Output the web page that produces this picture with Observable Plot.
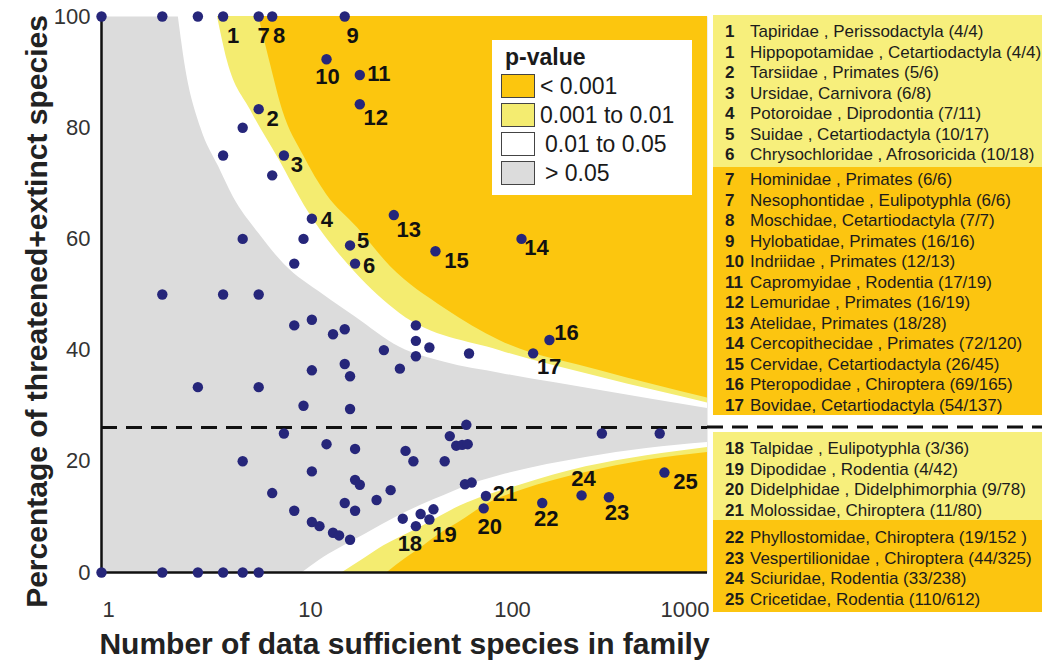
<!DOCTYPE html>
<html>
<head>
<meta charset="utf-8">
<script src="https://cdn.jsdelivr.net/npm/d3@7"></script>
<script src="https://cdn.jsdelivr.net/npm/@observablehq/plot@0.6"></script>
<style>
html, body { margin: 0; padding: 0; background: #fff; }
#wrap { position: relative; width: 1050px; height: 662px; overflow: hidden;
  font-family: "Liberation Sans", Arial, sans-serif; }
#chart { position: absolute; left: 0; top: 0; }
.blk { position: absolute; left: 713px; width: 329px; box-sizing: border-box; }
.row { height: 20.5px; line-height: 20.5px; font-size: 17px; color: #1c1c1c; white-space: nowrap; padding-left: 12px; }
.row b { display: inline-block; width: 25px; }
#legend { position: absolute; left: 492px; top: 40px; width: 200px; height: 155px; background: #fff; }
#legend .ttl { position: absolute; left: 13px; top: 4px; font-size: 23px; font-weight: bold; color: #1a1a1a; }
#legend .sw { position: absolute; left: 9px; width: 32px; height: 22px; border: 1.5px solid #444; }
#legend .lab { position: absolute; left: 48px; font-size: 23px; color: #1a1a1a; line-height: 25px; }
#dashR { position: absolute; left: 0; top: 0; pointer-events: none; }
</style>
</head>
<body>
<div id="wrap">
  <div id="chart"></div>
  <div id="legend"></div>
  <div id="tables"></div>
  <svg id="dashR" width="1050" height="662"></svg>
</div>
<script>
// ---------------- data ----------------
const baseline = 26.1;              // overall % threatened+extinct (dashed line)
const xTicks = [1, 10, 100, 1000];
const yTicks = [0, 20, 40, 60, 80, 100];

// numbered families (table on the right); k = threatened+extinct, n = data sufficient
const tableNo = [1, 1, 2, 3, 4, 5, 6, 7, 7, 8, 9, 10, 11, 12, 13, 14, 15, 16, 17, 18, 19, 20, 21, 22, 23, 24, 25];
const tableText = [
  "Tapiridae , Perissodactyla (4/4)",
  "Hippopotamidae , Cetartiodactyla (4/4)",
  "Tarsiidae , Primates  (5/6)",
  "Ursidae, Carnivora  (6/8)",
  "Potoroidae , Diprodontia  (7/11)",
  "Suidae , Cetartiodactyla  (10/17)",
  "Chrysochloridae , Afrosoricida (10/18)",
  "Hominidae , Primates (6/6)",
  "Nesophontidae , Eulipotyphla (6/6)",
  "Moschidae, Cetartiodactyla  (7/7)",
  "Hylobatidae, Primates (16/16)",
  "Indriidae , Primates (12/13)",
  "Capromyidae , Rodentia (17/19)",
  "Lemuridae , Primates (16/19)",
  "Atelidae, Primates (18/28)",
  "Cercopithecidae , Primates (72/120)",
  "Cervidae, Cetartiodactyla (26/45)",
  "Pteropodidae , Chiroptera (69/165)",
  "Bovidae, Cetartiodactyla (54/137)",
  "Talpidae , Eulipotyphla  (3/36)",
  "Dipodidae , Rodentia (4/42)",
  "Didelphidae , Didelphimorphia  (9/78)",
  "Molossidae, Chiroptera  (11/80)",
  "Phyllostomidae, Chiroptera  (19/152 )",
  "Vespertilionidae , Chiroptera  (44/325)",
  "Sciuridae, Rodentia (33/238)",
  "Cricetidae, Rodentia  (110/612)"
];
const tableK = [4, 4, 5, 6, 7, 10, 10, 6, 6, 7, 16, 12, 17, 16, 18, 72, 26, 69, 54, 3, 4, 9, 11, 19, 44, 33, 110];
const tableN = [4, 4, 6, 8, 11, 17, 18, 6, 6, 7, 16, 13, 19, 19, 28, 120, 45, 165, 137, 36, 42, 78, 80, 152, 325, 238, 612];
const tableGroup = ["0.001 to 0.01","0.001 to 0.01","0.001 to 0.01","0.001 to 0.01","0.001 to 0.01","0.001 to 0.01","0.001 to 0.01",
  "< 0.001","< 0.001","< 0.001","< 0.001","< 0.001","< 0.001","< 0.001","< 0.001","< 0.001","< 0.001","< 0.001","< 0.001",
  "0.001 to 0.01","0.001 to 0.01","0.001 to 0.01","0.001 to 0.01",
  "< 0.001","< 0.001","< 0.001","< 0.001"];

// other (unnumbered) families: n data sufficient, k threatened+extinct
const otherN = [1, 2, 3, 1, 2, 3, 4, 5, 6,
  5, 4, 7, 5, 10, 9, 2, 4, 6, 9, 11, 14, 16, 36, 36, 36, 42, 25, 30, 11, 16, 17, 6, 3, 10, 17, 8, 13, 18, 32,
  53, 64, 66, 57, 61, 65, 35, 50, 300, 580, 5, 11, 18, 19, 7, 16, 18, 9, 11, 12, 14, 15, 17, 23, 27, 63, 68, 31, 38, 44];
const otherK = [1, 2, 3, 0, 0, 0, 0, 0, 0,
  4, 3, 5, 3, 6, 5, 1, 2, 3, 4, 5, 6, 7, 16, 15, 14, 17, 10, 11, 4, 6, 6, 2, 1, 3, 5, 2, 3, 4, 7,
  13, 17, 26, 13, 14, 15, 7, 10, 75, 145, 1, 2, 3, 3, 1, 2, 2, 1, 1, 1, 1, 1, 1, 3, 4, 10, 11, 3, 4, 5];

// significance boundaries: [n, percent]
const bound05Upper  = [[2.4,100],[2.6,91],[3.1,80],[3.8,73],[4.5,67.5],[6,61],[8,55.5],[12.5,50],[18,46],[30,40.5],[50,37.8],[95,35.8],[300,32.7],[1000,29.5]];
const bound01Upper  = [[3.75,100],[4.2,92],[5.5,83],[7.5,74.5],[10.5,65],[18,54],[30,46.6],[94,39.9],[295,35.1],[1000,30.5]];
const bound001Upper = [[6,100],[6.8,92],[7.9,83],[10,75],[13,68],[18.5,62],[27,55],[50,47.5],[94,41.7],[295,36.3],[1000,31.4]];
const bound05Lower  = [[9.9,0],[12,2.2],[15,4.3],[20,6.8],[30,10.3],[45,13.2],[67,15.8],[100,17.7],[250,20.7],[500,22.3],[1000,23.4]];
const bound01Lower  = [[15.6,0],[20,2.5],[25,4.8],[30,6.3],[40,8.6],[60,12],[80,13.8],[120,15.8],[250,19],[500,21],[1000,22.5]];
const bound001Lower = [[26,0],[32,2.5],[40,5],[50,7.5],[60,9.2],[80,12.2],[120,14.8],[250,18],[500,20.2],[1000,21.6]];

const legendLabels = ["< 0.001", "0.001 to 0.01", "0.01 to 0.05", "> 0.05"];
const xTitle = "Number of data sufficient species in family";
const yTitle = "Percentage of threatened+extinct species";

// ---------------- styles ----------------
const C = {"< 0.001": "#FCC60E", "0.001 to 0.01": "#F4EC70", "0.01 to 0.05": "#FFFFFF", "> 0.05": "#DCDCDC"};
const TABLE_C = {"< 0.001": "#FCC510", "0.001 to 0.01": "#F7EF7C"};
const NAVY = "#26267a";
// label offsets (dx, dy) in px for plot numbers 1..25
const labelOffsets = {1:[10,19],2:[14,10],3:[13,9],4:[15,1],5:[13,-4],6:[14,2],7:[5,19],8:[7,19],9:[8,19],10:[1,18],
  11:[19,-1],12:[16,14],13:[15,15],14:[15,9],15:[21,10],16:[17,-7],17:[16,14],18:[-6,18],19:[15,15],20:[6,19],
  21:[19,-2],22:[4,16],23:[8,16],24:[2,-16],25:[21,9]};

// ---------------- build ----------------
const others = otherN.map((n, i) => ({n, pct: 100 * otherK[i] / n}));
const numbered = [];
tableNo.forEach((no, i) => {
  if (!numbered.find(d => d.no === no)) numbered.push({no, n: tableN[i], pct: 100 * tableK[i] / tableN[i]});
});
const allPts = others.concat(numbered);

const bx = d => d[0], by = d => d[1];
const upper = (b, fill) => Plot.areaY(b, {x: bx, y1: by, y2: 100, fill, curve: "monotone-x"});
const lower = (b, fill) => Plot.areaY(b, {x: bx, y1: 0, y2: by, fill, curve: "monotone-x"});
const axisFont = {fontSize: 22, fill: "#333"};

const chart = Plot.plot({
  width: 712, height: 662,
  marginTop: 16, marginLeft: 101, marginRight: 5, marginBottom: 90,
  x: {type: "log", domain: [1, 1000]},
  y: {domain: [0, 100]},
  style: {fontFamily: "'Liberation Sans', Arial, sans-serif", background: "transparent", overflow: "visible"},
  marks: [
    Plot.frame({fill: C["> 0.05"], stroke: null}),
    upper(bound05Upper, C["0.01 to 0.05"]),
    upper(bound01Upper, C["0.001 to 0.01"]),
    upper(bound001Upper, C["< 0.001"]),
    lower(bound05Lower, C["0.01 to 0.05"]),
    lower(bound01Lower, C["0.001 to 0.01"]),
    lower(bound001Lower, C["< 0.001"]),
    Plot.ruleY([baseline], {stroke: "#111", strokeWidth: 3, strokeDasharray: "16,9"}),
    Plot.ruleX([1], {stroke: "#111", strokeWidth: 2.5}),
    Plot.ruleY([0], {stroke: "#111", strokeWidth: 2.5}),
    Plot.axisY({ticks: yTicks, tickSize: 0, tickPadding: 11, label: null, ...axisFont}),
    Plot.axisX({ticks: xTicks.slice(0, 3), tickSize: 0, tickPadding: 29, label: null, dx: 7, tickFormat: d => String(d), ...axisFont}),
    Plot.axisX({ticks: xTicks.slice(3), tickSize: 0, tickPadding: 29, label: null, textAnchor: "end", dx: 2, tickFormat: d => String(d), ...axisFont}),
    Plot.dot(allPts, {x: "n", y: "pct", r: 5.2, fill: NAVY}),
    ...numbered.map(d => Plot.text([d], {x: "n", y: "pct", text: "no", dx: labelOffsets[d.no][0], dy: labelOffsets[d.no][1],
      fontSize: 22, fontWeight: "bold", fill: "#111"})),
    Plot.text([xTitle], {frameAnchor: "bottom", textAnchor: "middle", lineAnchor: "middle", dy: 72,
      fontSize: 30, fontWeight: "bold", fill: "#222"}),
    Plot.text([yTitle], {frameAnchor: "left", textAnchor: "middle", lineAnchor: "middle", rotate: -90, dx: -64, dy: 17,
      fontSize: 30, fontWeight: "bold", fill: "#222"})
  ]
});
document.getElementById("chart").appendChild(chart);

// dashed line continuing across the table
const yPix = chart.scale("y").apply(baseline);
const xEnd = chart.scale("x").apply(1000);
d3.select("#dashR").append("line")
  .attr("x1", xEnd).attr("x2", 1042).attr("y1", yPix).attr("y2", yPix)
  .attr("stroke", "#111").attr("stroke-width", 3).attr("stroke-dasharray", "16,9");

// legend
const lg = d3.select("#legend");
lg.append("div").attr("class", "ttl").text("p-value");
legendLabels.forEach((lab, i) => {
  lg.append("div").attr("class", "sw").style("top", (34 + i * 29) + "px").style("background", C[lab]);
  lg.append("div").attr("class", "lab").style("top", (34 + i * 29) + "px")
    .style("left", (i >= 2 ? 53 : 48) + "px").text(lab);
});

// tables
const blocks = [
  {top: 15, height: 152, pad: 7, from: 0, to: 7},
  {top: 167, height: 248, pad: 3, from: 7, to: 19},
  {top: 432, height: 88, pad: 7, from: 19, to: 23},
  {top: 520, height: 92, pad: 8, from: 23, to: 27}
];
const tb = d3.select("#tables");
blocks.forEach(b => {
  const div = tb.append("div").attr("class", "blk")
    .style("top", b.top + "px").style("height", b.height + "px")
    .style("padding-top", b.pad + "px")
    .style("background", TABLE_C[tableGroup[b.from]]);
  for (let i = b.from; i < b.to; i++) {
    const r = div.append("div").attr("class", "row");
    r.append("b").text(tableNo[i]);
    r.append("span").text(tableText[i]);
  }
});
</script>
</body>
</html>
